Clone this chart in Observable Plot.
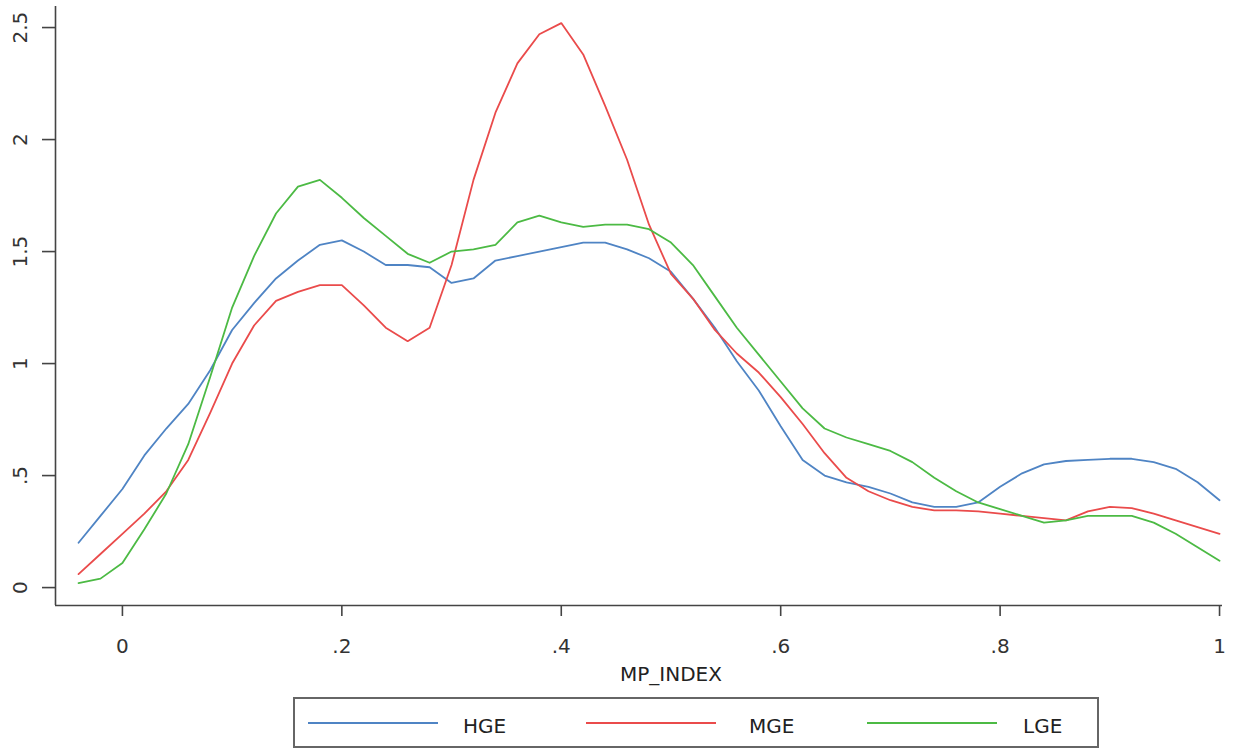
<!DOCTYPE html>
<html>
<head>
<meta charset="utf-8">
<script src="https://cdn.jsdelivr.net/npm/d3@7"></script>
<script src="https://cdn.jsdelivr.net/npm/@observablehq/plot@0.6"></script>
<style>
  html, body { margin: 0; padding: 0; background: #fff; }
  body { font-family: "DejaVu Sans", sans-serif; width: 1238px; height: 748px; overflow: hidden; }
  #legend { position: relative; margin-left: 293px; margin-top: 7px; width: 802px; height: 47px; border: 2px solid #666; }
  #legend .sw { position: absolute; height: 2px; width: 130px; top: 23px; }
  #legend .lb { position: absolute; top: 16px; font-size: 20px; color: #222; line-height: 22px; }
</style>
</head>
<body>
<div id="chart"></div>
<div id="legend"></div>
<script>
// ---- data ----
const xGrid = [-0.04,-0.02,0,0.02,0.04,0.06,0.08,0.10,0.12,0.14,0.16,0.18,0.20,0.22,0.24,0.26,0.28,0.30,0.32,0.34,0.36,0.38,0.40,0.42,0.44,0.46,0.48,0.50,0.52,0.54,0.56,0.58,0.60,0.62,0.64,0.66,0.68,0.70,0.72,0.74,0.76,0.78,0.80,0.82,0.84,0.86,0.88,0.90,0.92,0.94,0.96,0.98,1.00];
const hge = [0.20,0.32,0.44,0.59,0.71,0.82,0.97,1.15,1.27,1.38,1.46,1.53,1.55,1.50,1.44,1.44,1.43,1.36,1.38,1.46,1.48,1.50,1.52,1.54,1.54,1.51,1.47,1.41,1.29,1.16,1.01,0.88,0.72,0.57,0.50,0.47,0.45,0.42,0.38,0.36,0.36,0.38,0.45,0.51,0.55,0.565,0.57,0.575,0.575,0.56,0.53,0.47,0.39];
const mge = [0.06,0.15,0.24,0.33,0.43,0.57,0.78,1.00,1.17,1.28,1.32,1.35,1.35,1.26,1.16,1.10,1.16,1.44,1.82,2.12,2.34,2.47,2.52,2.38,2.15,1.91,1.62,1.40,1.29,1.15,1.045,0.96,0.85,0.73,0.60,0.49,0.43,0.39,0.36,0.345,0.345,0.34,0.33,0.32,0.31,0.30,0.34,0.36,0.355,0.33,0.30,0.27,0.24];
const lge = [0.02,0.04,0.11,0.26,0.42,0.64,0.94,1.25,1.48,1.67,1.79,1.82,1.74,1.65,1.57,1.49,1.45,1.50,1.51,1.53,1.63,1.66,1.63,1.61,1.62,1.62,1.60,1.54,1.44,1.30,1.16,1.04,0.92,0.80,0.71,0.67,0.64,0.61,0.56,0.49,0.43,0.38,0.35,0.32,0.29,0.30,0.32,0.32,0.32,0.29,0.24,0.18,0.12];
const seriesNames = ["HGE", "MGE", "LGE"];
const seriesColors = ["#4f84c4", "#ea4b4b", "#4cba44"];
const xTicks = [0, 0.2, 0.4, 0.6, 0.8, 1];
const xTickLabels = ["0", ".2", ".4", ".6", ".8", "1"];
const yTicks = [0, 0.5, 1, 1.5, 2, 2.5];
const yTickLabels = ["0", ".5", "1", "1.5", "2", "2.5"];
const xLabel = "MP_INDEX";

const xDomain = [-0.061, 1.0027];
const yDomain = [-0.08, 2.594];

const rows = [];
[hge, mge, lge].forEach((vals, s) => {
  vals.forEach((v, i) => rows.push({ x: xGrid[i], y: v, series: seriesNames[s] }));
});

const axisColor = "#444";
const plot = Plot.plot({
  width: 1238,
  height: 690,
  marginLeft: 55,
  marginRight: 16,
  marginTop: 6,
  marginBottom: 85,
  style: { fontFamily: "DejaVu Sans, sans-serif", fontSize: "20px", color: "#333", background: "#fff" },
  x: { domain: xDomain },
  y: { domain: yDomain },
  color: { domain: seriesNames, range: seriesColors },
  marks: [
    Plot.line(rows, { x: "x", y: "y", z: "series", stroke: "series", strokeWidth: 1.8 }),
    Plot.ruleX([xDomain[0]], { stroke: axisColor, strokeWidth: 1.6 }),
    Plot.ruleY([yDomain[0]], { stroke: axisColor, strokeWidth: 1.6 }),
    Plot.axisX({ ticks: xTicks, tickFormat: (d, i) => xTickLabels[i], tickSize: 11, tickPadding: 22, label: null, stroke: axisColor, strokeWidth: 1.6, fill: "#333" }),
    Plot.axisY({ ticks: yTicks, tickFormat: () => "", tickSize: 13, label: null, stroke: axisColor, strokeWidth: 1.6 }),
    Plot.text(yTicks, { y: d => d, text: (d, i) => yTickLabels[i], frameAnchor: "left", dx: -35, rotate: -90, textAnchor: "middle", lineAnchor: "middle", fill: "#333", fontSize: 20 }),
    Plot.text([xLabel], { x: () => (xTicks[0] + xTicks[xTicks.length - 1]) / 2, frameAnchor: "bottom", dy: 61, lineAnchor: "top", text: d => d, fill: "#222", fontSize: 20 })
  ]
});
document.getElementById("chart").appendChild(plot);

// legend below the chart
const legend = document.getElementById("legend");
const swLeft = [13, 291, 572];
const lbLeft = [168, 454, 728];
seriesNames.forEach((name, i) => {
  const sw = document.createElement("div");
  sw.className = "sw";
  sw.style.left = swLeft[i] + "px";
  sw.style.background = seriesColors[i];
  legend.appendChild(sw);
  const lb = document.createElement("div");
  lb.className = "lb";
  lb.style.left = lbLeft[i] + "px";
  lb.textContent = name;
  legend.appendChild(lb);
});
</script>
</body>
</html>
